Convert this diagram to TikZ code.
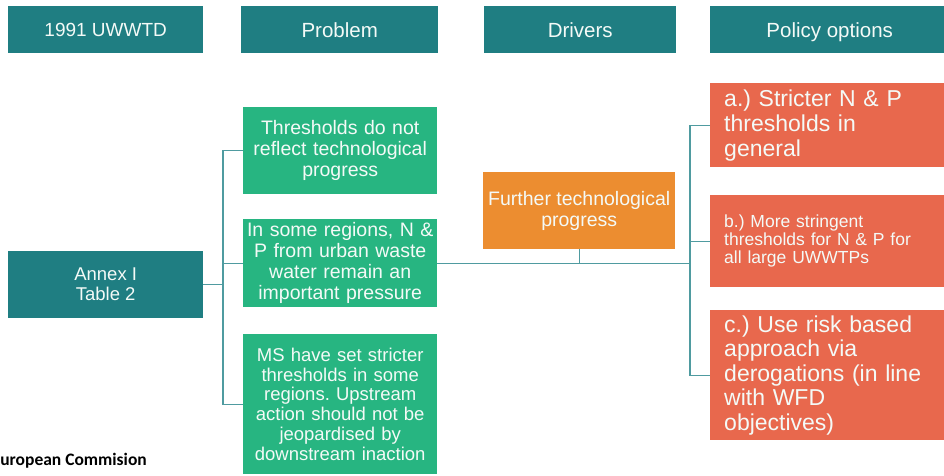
\documentclass[tikz,border=0pt]{standalone}
\usepackage{fontspec}
\setmainfont{Liberation Sans}
\newfontfamily\calfont{Carlito}
\frenchspacing
\definecolor{hdrteal}{HTML}{1F7E82}
\definecolor{boxgreen}{HTML}{27B581}
\definecolor{boxorange}{HTML}{EC8D30}
\definecolor{boxred}{HTML}{E8684D}
\definecolor{linecol}{HTML}{4F9BA0}
\definecolor{txtlight}{HTML}{F4FAF7}
\tikzset{
  hdr/.style={fill=hdrteal, text=txtlight, anchor=north west, inner xsep=2pt, inner ysep=0pt,
    minimum height=47pt, text height=14.7pt, text depth=0pt, font=\fontsize{20.5}{23}\selectfont},
  gbox/.style={fill=boxgreen, text=txtlight, anchor=north west, inner xsep=2pt, inner ysep=0pt,
    text width=190pt, align=center},
  rbox/.style={fill=boxred, text=txtlight, anchor=north west, inner xsep=14pt, inner ysep=0pt,
    text width=211pt, align=left},
  conn/.style={draw=linecol, line width=1.3pt},
}
\begin{document}
\begin{tikzpicture}[x=1pt,y=-1pt]
\useasboundingbox (0,0) rectangle (944,475);
% headers
\node[hdr, minimum width=195pt, font=\fontsize{19}{22}\selectfont, text height=13.6pt] (h1) at (8,6) {1991 UWWTD};
\node[hdr, minimum width=197pt] (h2) at (241,6) {Problem};
\node[hdr, minimum width=192pt] (h3) at (484,6) {Drivers};
\node[hdr, minimum width=239pt] (h4) at (710,6) {Policy options};
% left
\node[fill=hdrteal, text=txtlight, anchor=north west, inner xsep=2pt, inner ysep=0pt,
  minimum width=195pt, minimum height=67pt, align=center,
  font=\fontsize{18.5}{20}\selectfont] (annex) at (8,251) {Annex I\\Table 2};
% problems
\node[gbox, minimum height=87pt, font=\fontsize{19.5}{21}\selectfont] (g1) at (243,107)
  {Thresholds do not\\reflect technological\\progress};
\node[gbox, minimum height=88pt, font=\fontsize{19.5}{21}\selectfont] (g2) at (243,219)
  {In some regions, N \&\\P from urban waste\\water remain an\\important pressure};
\node[gbox, minimum height=140pt, font=\fontsize{18.5}{19.7}\selectfont] (g3) at (243,334)
  {MS have set stricter\\thresholds in some\\regions. Upstream\\action should not be\\jeopardised by\\downstream inaction};
% driver
\node[fill=boxorange, text=txtlight, anchor=north west, inner xsep=2pt, inner ysep=0pt,
  minimum width=192pt, minimum height=77pt, align=center,
  font=\fontsize{19.5}{20.5}\selectfont] (drv) at (483,172) {Further technological\\progress};
% policy options
\node[rbox, minimum height=84pt, font=\fontsize{23}{25}\selectfont] (ra) at (710,83)
  {a.) Stricter N \& P\\thresholds in\\general};
\node[rbox, minimum height=92pt, font=\fontsize{17.5}{18}\selectfont] (rb) at (710,195)
  {b.) More stringent\\thresholds for N \& P for\\all large UWWTPs};
\node[rbox, minimum height=130pt, font=\fontsize{23}{24.5}\selectfont] (rc) at (710,310)
  {c.) Use risk based\\approach via\\derogations (in line\\with WFD\\objectives)};
% source
\node[anchor=base east, inner sep=0pt, font=\calfont\bfseries\fontsize{17.5}{19}\selectfont] (src) at (147,465) {European Commision};
% spines
\coordinate (ls) at (223,0);
\coordinate (rs) at (690,0);
\draw[conn] (g1.west) -| (ls |- g3.west) -- (g3.west);
\draw[conn] (annex.east) -- (ls |- annex.east);
\draw[conn] (g2.west) -- (ls |- g2.west);
\draw[conn] (g2.east) -- (rs |- g2.east);
\draw[conn] (drv.south) -- (drv.south |- g2.east);
\draw[conn] (ra.west) -| (rs |- rc.west) -- (rc.west);
\draw[conn] (rb.west) -- (rs |- rb.west);
\end{tikzpicture}
\end{document}
